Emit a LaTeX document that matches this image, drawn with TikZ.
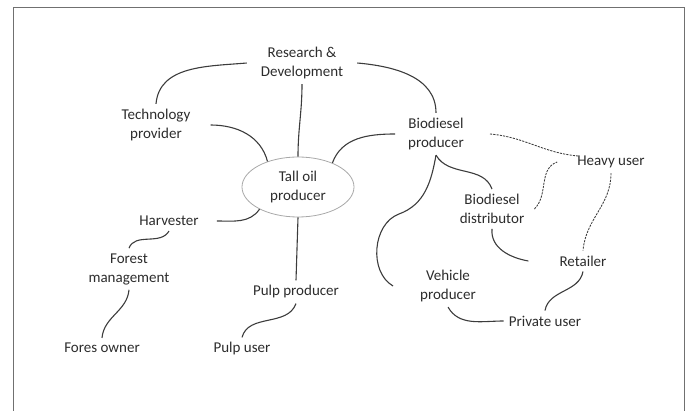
\documentclass[tikz,border=0pt]{standalone}
\usepackage{fontspec}
\setmainfont{Carlito}
\usetikzlibrary{shapes.geometric}
\definecolor{inkgray}{HTML}{2C2C2C}
\definecolor{linegray}{HTML}{3C3C3C}
\definecolor{ringgray}{HTML}{A8A8A8}
\definecolor{framegray}{HTML}{707070}
\begin{document}
\begin{tikzpicture}[x=1pt,y=-1pt,
    actor/.style={align=center,inner sep=5pt,text=inkgray,font=\fontsize{15}{19}\selectfont},
    tie/.style={draw=linegray,line width=1.1pt},
    weaktie/.style={draw=linegray,line width=0.85pt,dash pattern=on 2.2pt off 1.1pt}]
  \useasboundingbox (0,0) rectangle (688,411);
  \draw[framegray,line width=1] (13,411) -- (13,8) -- (684,8) -- (684,411);

  \node[actor] (rd) at (302,63) {Research \&\\Development};
  \node[actor] (tech) at (156,125) {Technology\\provider};
  \node[actor] (bio) at (436,134) {Biodiesel\\producer};
  \node[actor,draw=ringgray,line width=0.8pt,ellipse,minimum width=112,minimum height=60,inner sep=0] (tall) at (298,187) {Tall oil\\producer};
  \node[actor] (harv) at (169,221) {Harvester};
  \node[actor] (forest) at (129,269) {Forest\\management};
  \node[actor] (owner) at (102,348) {Fores owner};
  \node[actor] (pulp) at (296,292) {Pulp producer};
  \node[actor] (puser) at (242,349) {Pulp user};
  \node[actor] (heavy) at (611,162) {Heavy user};
  \node[actor] (dist) at (492,209) {Biodiesel\\distributor};
  \node[actor] (ret) at (583,261) {Retailer};
  \node[actor] (veh) at (448,286) {Vehicle\\producer};
  \node[actor] (priv) at (545,321) {Private user};
  \coordinate (vbend) at (399,214);

  \draw[tie] ([xshift=-9]rd.west) to[out=185,in=85] (tech.north);
  \draw[tie] ([xshift=9]rd.east) to[out=-5,in=90] (bio.north);
  \draw[tie] (rd.south) to[out=-90,in=90] (tall.north);
  \draw[tie] ([xshift=15]tech.east) to[out=0,in=105] (tall.140);
  \draw[tie] ([xshift=-8]bio.west) to[out=180,in=70] (tall.35);
  \draw[tie] ([xshift=13]harv.east) to[out=0,in=235] (tall.210);
  \draw[tie] (harv.south) to[out=-120,in=70] (forest.north);
  \draw[tie] (forest.south) to[out=-95,in=85] (owner.north);
  \draw[tie] (tall.south) -- (pulp.north);
  \draw[tie] (pulp.south) to[out=-110,in=75] (puser.north);
  \draw[tie] (bio.south) to[out=-60,in=110] (dist.north);
  \draw[tie] (bio.south) to[out=-100,in=20] (vbend) to[out=200,in=150] ([xshift=-22]veh.west);
  \draw[tie] (dist.south) to[out=-95,in=170] ([xshift=-26]ret.west);
  \draw[tie] (veh.south) to[out=-60,in=180] (priv.west);
  \draw[tie] (ret.south) to[out=-100,in=80] (priv.north);
  \draw[weaktie] ([xshift=21]bio.east) to[out=-5,in=175] ([xshift=6,yshift=6]heavy.west);
  \draw[weaktie] ([xshift=5]dist.east) to[out=45,in=200] ([xshift=-15]heavy.west);
  \draw[weaktie] (heavy.south) to[out=-90,in=85] (ret.north);
\end{tikzpicture}
\end{document}
